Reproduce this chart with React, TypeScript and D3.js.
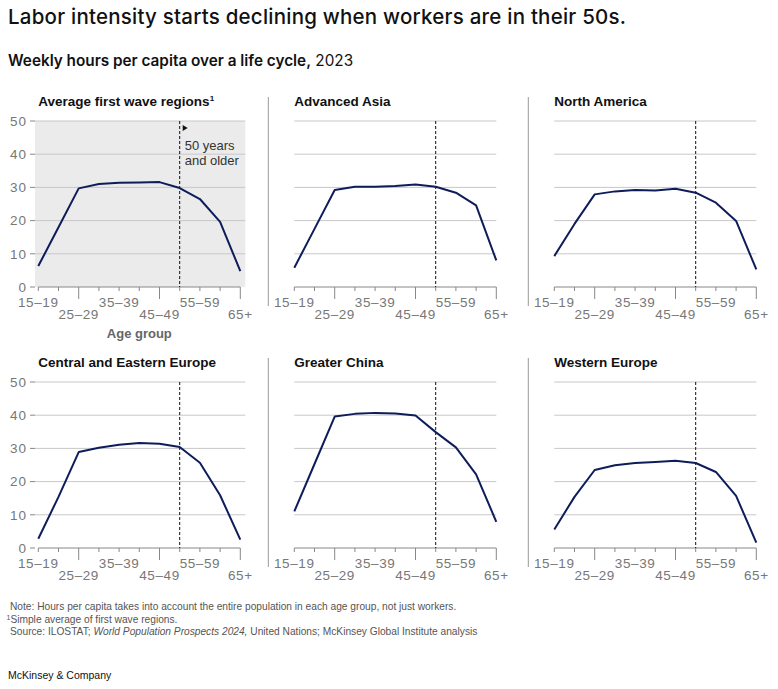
import React from 'react';
import * as d3 from 'd3';

const AGE_GROUPS = ['15–19', '20–24', '25–29', '30–34', '35–39', '40–44', '45–49', '50–54', '55–59', '60–64', '65+'];
const LABELED = ['15–19', '25–29', '35–39', '45–49', '55–59', '65+'];
const Y_TICKS = [0, 10, 20, 30, 40, 50];
const THRESHOLD = '50–54';

const REGIONS = [
  'Average first wave regions',
  'Advanced Asia',
  'North America',
  'Central and Eastern Europe',
  'Greater China',
  'Western Europe',
];

const avgFirstWave = [6.3, 18, 29.7, 31.0, 31.4, 31.5, 31.6, 29.8, 26.5, 19.6, 4.8];
const advancedAsia = [5.8, 17.5, 29.2, 30.2, 30.2, 30.4, 30.9, 30.2, 28.4, 24.6, 8.0];
const northAmerica = [9.3, 19, 27.9, 28.8, 29.2, 29.1, 29.6, 28.4, 25.4, 19.9, 5.3];
const centralEastEurope = [2.8, 15.4, 28.9, 30.2, 31.1, 31.6, 31.4, 30.4, 25.7, 15.9, 2.5];
const greaterChina = [11.0, 25.3, 39.6, 40.4, 40.7, 40.5, 39.9, 34.9, 30.3, 22.2, 7.9];
const westernEurope = [5.6, 15.4, 23.5, 24.9, 25.6, 25.9, 26.3, 25.6, 22.9, 15.7, 1.6];

const SERIES = [avgFirstWave, advancedAsia, northAmerica, centralEastEurope, greaterChina, westernEurope];

const W = 778;
const H = 689;
const COL_X = [38.3, 294.3, 554.3];
const PLOT_W = 202;
const ROW_Y = [121, 382];
const PLOT_H = 166;

const SANS = '"Liberation Sans", Arial, sans-serif';
const LINE_COLOR = '#0e1d5a';

type PanelProps = {
  title: string;
  values: number[];
  col: number;
  row: number;
};

const Panel: React.FC<PanelProps> = ({ title, values, col, row }) => {
  const x0 = COL_X[col];
  const y0 = ROW_Y[row];
  const x = d3.scalePoint<string>().domain(AGE_GROUPS).range([x0, x0 + PLOT_W]);
  const y = d3.scaleLinear().domain([0, 50]).range([y0 + PLOT_H, y0]);
  const line = d3
    .line<number>()
    .x((_, i) => x(AGE_GROUPS[i]) as number)
    .y((d) => y(d));

  const showY = col === 0;
  const highlight = row === 0 && col === 0;
  const gridLeft = showY ? x0 - 3.3 : x0;
  const gridRight = showY ? x0 + PLOT_W + 5 : x0 + PLOT_W;
  const tx = x(THRESHOLD) as number;

  return (
    <g>
      {col > 0 && (
        <line
          x1={x0 - 26}
          x2={x0 - 26}
          y1={y0 - 24}
          y2={y0 + PLOT_H + 19}
          stroke="#999"
          strokeWidth={1}
        />
      )}
      <text x={x0} y={y0 - 15} fontFamily={SANS} fontWeight="bold" fontSize={13.5} fill="#111">
        {title}
        {highlight && (
          <tspan fontSize={8} dy={-5}>
            1
          </tspan>
        )}
      </text>
      {highlight && (
        <rect x={gridLeft} y={y0} width={gridRight - gridLeft} height={PLOT_H} fill="#ebebeb" />
      )}
      {Y_TICKS.filter((t) => t > 0).map((t) => (
        <line key={t} x1={gridLeft} x2={gridRight} y1={y(t)} y2={y(t)} stroke="#c8c8c8" strokeWidth={1} />
      ))}
      {showY &&
        Y_TICKS.map((t) => (
          <g key={t}>
            <line x1={gridLeft - 5} x2={gridLeft} y1={y(t)} y2={y(t)} stroke="#888" />
            <text
              x={gridLeft - 8}
              y={y(t)}
              dy="0.35em"
              textAnchor="end"
              fontFamily={SANS}
              fontSize={13.5}
              letterSpacing={1}
              fill="#777"
            >
              {t}
            </text>
          </g>
        ))}
      <line x1={x0} x2={x0 + PLOT_W} y1={y(0)} y2={y(0)} stroke="#888" strokeWidth={1} />
      {AGE_GROUPS.map((a) => {
        const idx = LABELED.indexOf(a);
        const second = idx >= 0 && idx % 2 === 1;
        return (
          <g key={a}>
            <line x1={x(a)} x2={x(a)} y1={y(0)} y2={y(0) + (second ? 12 : 4)} stroke="#888" />
            {idx >= 0 && (
              <text
                x={x(a)}
                y={y(0) + (second ? 32 : 19.5)}
                textAnchor="middle"
                fontFamily={SANS}
                fontSize={13.5}
                letterSpacing={0.6}
                fill="#777"
              >
                {a}
              </text>
            )}
          </g>
        );
      })}
      <line x1={tx} x2={tx} y1={y0} y2={y(0)} stroke="#111" strokeWidth={1} strokeDasharray="3,2" />
      {highlight && (
        <g fontFamily={SANS} fontSize={13} fill="#333">
          <path d={`M${tx + 3},${y0 + 4} l5,3 l-5,3 Z`} fill="#111" />
          <text x={tx + 5} y={y0 + 29}>
            50 years
          </text>
          <text x={tx + 5} y={y0 + 44}>
            and older
          </text>
        </g>
      )}
      <path d={line(values) ?? ''} fill="none" stroke={LINE_COLOR} strokeWidth={2} strokeLinejoin="round" />
      {highlight && (
        <text
          x={(x0 + x0 + PLOT_W) / 2}
          y={y(0) + 50.5}
          textAnchor="middle"
          fontFamily={SANS}
          fontWeight="bold"
          fontSize={13}
          fill="#666"
        >
          Age group
        </text>
      )}
    </g>
  );
};

export default function App() {
  return (
    <svg width={W} height={H} style={{ display: 'block', position: 'absolute', left: 0, top: 0, background: '#fff' }}>
      <text
        x={8}
        y={24}
        fontFamily="Inter, sans-serif"
        fontWeight={500}
        fontSize={20.5}
        fill="#111"
        textLength={618}
        lengthAdjust="spacing"
      >
        Labor intensity starts declining when workers are in their 50s.
      </text>
      <text x={8} y={66} fontFamily="Inter, sans-serif" fontSize={15.3} fill="#111">
        <tspan fontWeight={600}>Weekly hours per capita over a life cycle,</tspan>
        <tspan fontWeight={400}> 2023</tspan>
      </text>
      {REGIONS.map((r, i) => (
        <Panel key={r} title={r} values={SERIES[i]} col={i % 3} row={Math.floor(i / 3)} />
      ))}
      <g fontFamily={SANS} fontSize={10.2} fill="#555">
        <text x={10} y={610}>
          Note: Hours per capita takes into account the entire population in each age group, not just workers.
        </text>
        <text x={6.5} y={622.5}>
          <tspan fontSize={7} dy={-3}>1</tspan>
          <tspan dy={3}>Simple average of first wave regions.</tspan>
        </text>
        <text x={10} y={635}>
          Source: ILOSTAT; <tspan fontStyle="italic">World Population Prospects 2024,</tspan> United Nations; McKinsey
          Global Institute analysis
        </text>
      </g>
      <text x={8} y={678.5} fontFamily={SANS} fontSize={10.5} fill="#111">
        McKinsey &amp; Company
      </text>
    </svg>
  );
}
